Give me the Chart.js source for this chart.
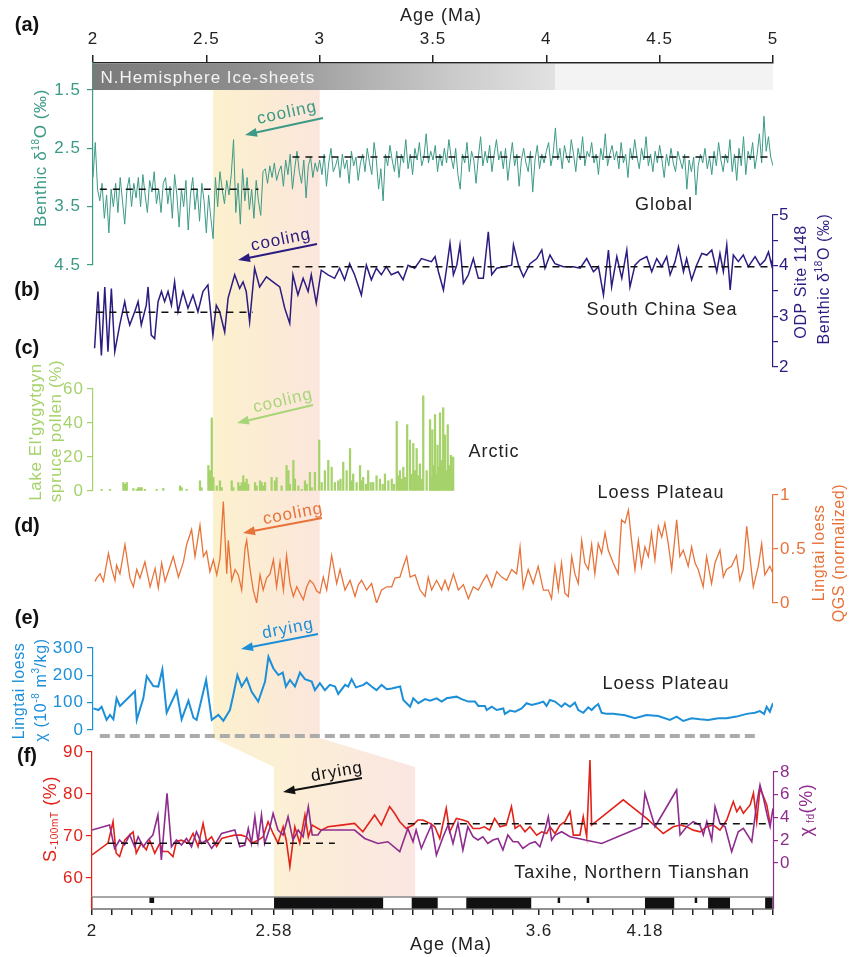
<!DOCTYPE html>
<html>
<head>
<meta charset="utf-8">
<script src="https://cdn.jsdelivr.net/npm/chart.js@4"></script>
<style>
  body { margin: 0; background: #fff; }
  #wrap { position: relative; width: 850px; height: 957px; }
  #wrap canvas { position: absolute; left: 0; top: 0; }
</style>
</head>
<body>
<div id="wrap"></div>
<script>
// ---- data ----
const ageTicks = [2, 2.5, 3, 3.5, 4, 4.5, 5];

// (a) global benthic d18O stack, sampled every 0.01 Ma from 2.00 Ma
const tealStart = 2.0, tealStep = 0.01;
const tealVals = [
  3.0, 2.4, 3.2, 3.4, 3.1, 3.7, 3.3, 3.95, 3.2, 3.5,
  3.1, 3.6, 3.0, 3.4, 3.8, 3.2, 3.0, 3.5, 3.1, 3.35,
  3.0, 3.5, 2.95, 3.3, 3.6, 3.05, 3.25, 2.9, 3.45, 3.2,
  3.6, 3.1, 3.0, 3.45, 3.15, 3.7, 2.95, 3.3, 3.85, 3.2,
  3.5, 3.05, 3.9, 3.3, 3.0, 3.55, 3.2, 3.75, 3.1, 3.4,
  3.95, 3.3, 3.7, 4.05, 3.0, 3.5, 2.9, 3.2, 3.45, 3.05,
  3.3, 2.95, 2.35, 3.6, 3.1, 3.8, 2.85, 3.4, 3.0, 3.55,
  3.2, 3.7, 3.05, 3.4, 3.65, 2.9, 2.85, 3.1, 2.8, 3.0,
  2.75, 3.05, 2.9, 2.8, 3.15, 2.7, 2.95, 2.6, 3.2, 2.85,
  2.55, 2.9, 3.1, 2.7, 3.35, 2.8, 2.65, 3.0, 2.75, 2.9,
  2.7, 2.95, 2.6, 3.15, 2.75, 2.5, 2.9, 2.8, 2.65, 3.0,
  2.6, 2.85, 2.7, 3.1, 2.55, 2.8, 2.65, 3.05, 2.75, 2.6,
  2.9, 2.5, 2.75, 2.95, 2.4, 2.7, 3.2, 2.85, 3.4, 2.6,
  2.8, 2.45, 2.7, 2.9, 2.55, 3.0, 2.6, 2.75, 2.35, 2.85,
  2.6, 2.95, 2.5, 2.7, 2.4, 2.8, 2.65, 2.25, 2.75, 2.55,
  2.7, 2.45, 2.9, 2.6, 2.8, 2.5, 2.75, 2.35, 2.65, 2.85,
  2.5, 2.95, 3.2, 2.6, 2.75, 2.4, 2.9, 2.55, 2.7, 3.1,
  2.65, 2.3, 2.8, 2.55, 2.75, 2.45, 2.9, 2.6, 2.35, 2.7,
  2.55, 2.85, 2.5, 3.05, 2.7, 2.4, 2.8, 2.6, 3.15, 2.7,
  2.5, 2.75, 2.9, 2.55, 3.25, 2.7, 2.45, 2.85, 2.6, 2.75,
  2.55, 2.4, 2.8, 2.6, 2.15, 2.7, 2.5, 2.85, 2.45, 2.65,
  2.75, 2.35, 2.6, 2.9, 2.5, 2.7, 2.3, 2.8, 2.55, 2.65,
  2.4, 2.75, 2.6, 2.95, 2.5, 2.7, 2.25, 2.8, 2.6, 2.45,
  2.7, 2.55, 2.85, 2.4, 2.75, 2.6, 3.0, 2.5, 2.7, 2.35,
  2.65, 2.85, 2.5, 2.7, 2.3, 2.8, 2.6, 2.9, 2.55, 2.75,
  2.45, 2.7, 3.0, 2.6, 2.8, 2.5, 2.75, 2.9, 2.55, 2.7,
  2.85, 2.6, 3.2, 2.7, 2.9, 2.65, 3.3, 2.8, 2.6, 2.75,
  2.5, 2.85, 2.65, 2.95, 2.55, 2.8, 2.4, 2.7, 2.9, 2.6,
  2.75, 2.35, 2.9, 2.6, 3.05, 2.5, 2.8, 2.3, 2.95, 2.55,
  2.7, 2.4, 2.85, 2.6, 2.25, 2.75, 1.95, 2.55, 2.3, 2.65,
  2.8
];
const tealTicks = [1.5, 2.5, 3.5, 4.5];
const tealMeans = [[2.03, 2.73, 3.2], [2.88, 4.99, 2.65]];

// (b) ODP 1148 benthic d18O [age, value]
const navy = [
  [2.007,2.37],[2.022,3.49],[2.037,2.23],[2.052,3.58],[2.066,2.30],[2.081,3.55],[2.096,2.30],[2.118,2.83],
  [2.140,3.29],[2.151,3.02],[2.162,2.83],[2.184,3.09],[2.199,3.29],[2.213,2.83],[2.235,3.22],[2.243,3.58],
  [2.257,2.63],[2.272,2.56],[2.287,3.29],[2.302,3.49],[2.316,3.29],[2.331,3.49],[2.346,3.22],[2.360,3.68],
  [2.375,3.09],[2.397,3.49],[2.419,3.16],[2.441,3.42],[2.463,3.09],[2.485,3.49],[2.507,3.62],[2.529,2.63],
  [2.544,3.22],[2.559,3.09],[2.581,2.69],[2.596,3.36],[2.625,3.82],[2.647,3.55],[2.662,3.68],[2.676,3.49],
  [2.691,2.89],[2.713,3.95],[2.735,3.58],[2.765,3.78],[2.794,3.68],[2.824,3.58],[2.846,3.16],[2.868,2.86],
  [2.882,3.82],[2.904,3.42],[2.927,3.75],[2.949,3.49],[2.963,3.82],[2.985,3.26],[3.007,3.91],[3.037,3.82],
  [3.066,3.75],[3.088,3.95],[3.110,3.72],[3.132,4.04],[3.154,3.82],[3.184,3.42],[3.206,4.01],[3.228,3.72],
  [3.250,3.95],[3.272,3.82],[3.294,3.98],[3.316,3.82],[3.346,3.88],[3.368,3.72],[3.390,4.01],[3.419,3.95],
  [3.449,4.14],[3.493,4.08],[3.509,4.18],[3.524,3.88],[3.546,3.52],[3.561,3.98],[3.575,4.44],[3.590,3.82],
  [3.605,4.01],[3.619,4.41],[3.634,3.65],[3.656,3.82],[3.678,4.14],[3.700,3.75],[3.722,3.75],[3.744,4.67],
  [3.759,3.82],[3.781,3.95],[3.847,4.01],[3.855,4.41],[3.877,4.01],[3.899,3.78],[3.928,4.04],[3.958,4.14],
  [3.980,4.31],[3.994,3.95],[4.016,4.21],[4.038,4.04],[4.075,3.98],[4.119,3.98],[4.149,3.95],[4.178,4.14],
  [4.208,3.88],[4.230,3.98],[4.252,3.42],[4.274,4.31],[4.288,3.58],[4.311,4.18],[4.333,3.75],[4.355,4.31],
  [4.369,3.58],[4.391,4.01],[4.413,4.11],[4.443,4.18],[4.465,3.88],[4.487,4.14],[4.509,3.98],[4.531,4.18],
  [4.546,3.82],[4.568,4.08],[4.583,4.37],[4.605,3.88],[4.619,4.14],[4.641,3.72],[4.663,4.01],[4.686,4.24],
  [4.708,4.21],[4.730,4.31],[4.752,3.88],[4.766,4.24],[4.781,3.88],[4.796,4.41],[4.811,3.52],[4.825,4.21],
  [4.847,4.08],[4.869,4.21],[4.891,3.98],[4.921,4.18],[4.943,4.01],[4.965,4.11],[4.980,4.27],[4.994,4.01],
  [5.0,4.18]
];
const navyTicks = [2, 2.5, 3, 3.5, 4, 4.5, 5];
const navyMeans = [[2.015, 2.706, 3.08], [2.88, 5.0, 3.98]];

// (c) Lake El'gygytgyn spruce pollen (%) [age, value]
const pollen = [
  [2.038,1],[2.075,1],[2.134,5],[2.141,4],[2.149,5],[2.178,1.5],[2.193,1],[2.200,2],[2.207,2],[2.215,2],
  [2.229,1],[2.281,1],[2.310,1.5],[2.384,3],[2.391,2],[2.413,1],[2.472,6],[2.479,2],[2.509,15],[2.516,12],
  [2.524,43],[2.531,8],[2.546,3],[2.560,6],[2.568,2],[2.612,6],[2.619,2],[2.641,5],[2.648,3],[2.656,5],
  [2.663,9],[2.670,5],[2.678,7],[2.685,4],[2.715,5],[2.722,3],[2.737,6],[2.744,5],[2.751,3],[2.759,5],
  [2.788,8],[2.803,6],[2.810,8],[2.832,3],[2.854,15],[2.862,12],[2.869,4],[2.884,18],[2.891,7],[2.906,3],
  [2.921,1],[2.935,6],[2.943,4],[2.957,11],[2.965,2],[2.979,11],[2.998,30],[3.009,5],[3.023,12],[3.038,18],
  [3.053,14],[3.067,5],[3.082,6],[3.092,7],[3.104,17],[3.119,12],[3.134,25],[3.141,6],[3.148,10],[3.163,5],
  [3.178,15],[3.185,6],[3.192,8],[3.204,4],[3.214,12],[3.225,5],[3.236,5],[3.251,9],[3.266,7],[3.278,4],
  [3.288,10],[3.303,6],[3.318,7],[3.328,4],[3.340,41],[3.347,9],[3.354,12],[3.362,7],[3.369,14],[3.376,8],
  [3.386,39],[3.398,30],[3.406,10],[3.413,28],[3.420,12],[3.428,25],[3.435,9],[3.442,16],[3.450,7],[3.457,56],
  [3.472,12],[3.487,42],[3.491,8],[3.497,36],[3.503,15],[3.509,45],[3.514,10],[3.520,27],[3.526,14],[3.531,46],
  [3.538,18],[3.545,49],[3.553,33],[3.558,12],[3.565,39],[3.570,15],[3.579,21],[3.585,9],[3.589,20]
];
const pollenTicks = [0, 20, 40, 60];

// (d) Lingtai loess QGS (normalized) [age, value]
const qgs = [
  [2.009,0.20],[2.016,0.23],[2.031,0.27],[2.046,0.20],[2.068,0.46],[2.082,0.32],[2.097,0.21],[2.104,0.35],
  [2.119,0.27],[2.141,0.54],[2.163,0.23],[2.178,0.15],[2.193,0.31],[2.207,0.23],[2.229,0.38],[2.252,0.15],
  [2.274,0.32],[2.288,0.14],[2.303,0.37],[2.318,0.20],[2.332,0.29],[2.354,0.43],[2.377,0.24],[2.399,0.38],
  [2.413,0.54],[2.435,0.68],[2.450,0.43],[2.472,0.72],[2.487,0.43],[2.501,0.48],[2.516,0.29],[2.531,0.40],
  [2.546,0.26],[2.560,0.41],[2.575,0.94],[2.590,0.27],[2.597,0.58],[2.612,0.21],[2.627,0.31],[2.641,0.26],
  [2.656,0.12],[2.671,0.51],[2.678,0.58],[2.693,0.31],[2.707,0.12],[2.722,0.00],[2.737,0.26],[2.751,0.12],
  [2.766,0.23],[2.781,0.27],[2.796,0.40],[2.810,0.15],[2.825,0.38],[2.840,0.12],[2.854,0.44],[2.869,0.18],
  [2.884,0.06],[2.899,0.15],[2.913,0.09],[2.928,0.03],[2.943,0.15],[2.957,0.21],[2.972,0.18],[2.987,0.11],
  [3.001,0.09],[3.016,0.24],[3.031,0.12],[3.053,0.44],[3.075,0.18],[3.090,0.31],[3.112,0.12],[3.134,0.21],
  [3.156,0.06],[3.171,0.17],[3.185,0.21],[3.207,0.12],[3.229,0.18],[3.251,0.00],[3.273,0.12],[3.296,0.15],
  [3.318,0.15],[3.332,0.23],[3.354,0.24],[3.369,0.34],[3.384,0.43],[3.399,0.24],[3.421,0.26],[3.443,0.12],
  [3.465,0.06],[3.479,0.24],[3.494,0.12],[3.516,0.21],[3.538,0.12],[3.553,0.21],[3.568,0.12],[3.590,0.27],
  [3.612,0.12],[3.634,0.17],[3.656,0.04],[3.678,0.15],[3.700,0.12],[3.722,0.21],[3.737,0.26],[3.759,0.15],
  [3.781,0.29],[3.803,0.24],[3.825,0.21],[3.847,0.31],[3.869,0.27],[3.884,0.52],[3.898,0.14],[3.920,0.31],
  [3.942,0.18],[3.964,0.34],[3.987,0.12],[4.009,0.12],[4.023,0.04],[4.038,0.34],[4.053,0.12],[4.067,0.37],
  [4.082,0.09],[4.097,0.06],[4.112,0.43],[4.126,0.27],[4.141,0.18],[4.156,0.58],[4.170,0.37],[4.185,0.31],
  [4.200,0.54],[4.214,0.27],[4.229,0.55],[4.244,0.46],[4.259,0.65],[4.273,0.49],[4.295,0.37],[4.317,0.27],
  [4.332,0.77],[4.347,0.74],[4.362,0.86],[4.376,0.58],[4.391,0.31],[4.406,0.58],[4.420,0.34],[4.435,0.52],
  [4.450,0.43],[4.464,0.65],[4.479,0.40],[4.494,0.71],[4.509,0.61],[4.523,0.74],[4.538,0.55],[4.553,0.31],
  [4.575,0.77],[4.589,0.43],[4.604,0.49],[4.626,0.34],[4.641,0.52],[4.656,0.37],[4.670,0.31],[4.692,0.15],
  [4.707,0.43],[4.729,0.18],[4.744,0.37],[4.766,0.49],[4.781,0.24],[4.795,0.31],[4.817,0.34],[4.839,0.44],
  [4.854,0.21],[4.869,0.31],[4.884,0.71],[4.898,0.43],[4.913,0.15],[4.935,0.34],[4.950,0.55],[4.964,0.26],
  [4.986,0.34],[5.0,0.27]
];
const qgsTicks = [0, 0.5, 1];

// (e) Lingtai loess magnetic susceptibility [age, value]
const chi = [
  [2.002,79],[2.024,73],[2.038,85],[2.060,37],[2.075,55],[2.090,39],[2.104,116],[2.119,88],[2.185,142],
  [2.193,37],[2.222,116],[2.237,197],[2.266,161],[2.288,159],[2.306,221],[2.325,63],[2.369,142],[2.391,39],
  [2.421,107],[2.443,45],[2.457,37],[2.499,183],[2.524,37],[2.553,55],[2.575,34],[2.604,73],[2.619,128],
  [2.637,201],[2.656,159],[2.678,189],[2.700,140],[2.729,104],[2.759,177],[2.774,268],[2.796,225],[2.818,201],
  [2.837,210],[2.851,159],[2.869,183],[2.891,159],[2.913,210],[2.935,186],[2.965,177],[2.979,146],[3.001,171],
  [3.023,146],[3.045,165],[3.068,159],[3.082,132],[3.112,165],[3.126,159],[3.141,186],[3.160,156],[3.193,165],
  [3.207,174],[3.229,159],[3.251,146],[3.273,165],[3.296,149],[3.318,152],[3.355,159],[3.369,110],[3.399,85],
  [3.413,116],[3.435,98],[3.465,113],[3.487,107],[3.516,116],[3.538,104],[3.560,116],[3.604,122],[3.626,113],
  [3.656,104],[3.685,104],[3.700,88],[3.729,88],[3.737,73],[3.759,85],[3.781,73],[3.810,79],[3.817,59],
  [3.840,71],[3.862,67],[3.891,79],[3.913,98],[3.935,92],[3.965,98],[3.987,104],[4.001,88],[4.016,110],
  [4.038,104],[4.067,85],[4.082,98],[4.104,85],[4.126,100],[4.141,73],[4.163,63],[4.185,83],[4.200,73],
  [4.214,85],[4.229,95],[4.244,63],[4.266,59],[4.295,59],[4.347,54],[4.391,43],[4.442,55],[4.494,51],
  [4.545,37],[4.575,49],[4.604,33],[4.641,43],[4.678,39],[4.714,37],[4.759,43],[4.795,43],[4.839,49],
  [4.884,59],[4.920,63],[4.942,69],[4.961,59],[4.972,85],[4.986,67],[5.0,98]
];
const chiTicks = [0, 100, 200, 300];

// (f) Taxihe section, ages from the magnetostratigraphic age axis
const fTieAge = [2, 2.58, 3.6, 4.18, 4.88];
const fTiePos = [0, 0.2673, 0.6564, 0.812, 1];
const fTickAges = [2, 2.58, 3.6, 4.18];
const fTickLabels = ['2', '2.58', '3.6', '4.18'];
const sRatio = [
  [2.000,65.5],[2.051,68.3],[2.067,73.4],[2.077,65.9],[2.088,65.1],[2.104,69.0],[2.120,70.2],[2.131,71.0],
  [2.141,65.9],[2.157,68.3],[2.173,66.7],[2.184,69.0],[2.200,65.9],[2.216,68.3],[2.226,66.3],[2.242,66.3],
  [2.258,65.1],[2.269,68.7],[2.285,69.0],[2.306,68.3],[2.322,70.6],[2.338,67.5],[2.354,73.0],[2.365,68.7],
  [2.381,69.8],[2.397,67.5],[2.413,69.4],[2.433,69.8],[2.455,70.2],[2.476,70.2],[2.492,69.8],[2.508,68.3],
  [2.529,69.0],[2.545,69.8],[2.561,73.4],[2.577,70.6],[2.595,68.3],[2.615,72.2],[2.627,69.0],[2.641,62.7],
  [2.660,72.2],[2.679,68.3],[2.699,75.0],[2.712,69.8],[2.727,72.6],[2.749,71.8],[2.762,71.4],[2.788,72.2],
  [2.839,72.6],[2.890,73.0],[2.922,71.0],[2.967,75.0],[2.993,72.6],[3.025,77.0],[3.044,75.4],[3.064,73.4],
  [3.089,71.8],[3.115,72.6],[3.134,73.8],[3.153,73.8],[3.180,73.0],[3.199,72.2],[3.218,69.4],[3.243,76.6],
  [3.256,71.0],[3.282,74.2],[3.307,73.8],[3.326,73.4],[3.346,71.8],[3.371,71.8],[3.390,72.2],[3.410,71.4],
  [3.429,74.2],[3.450,72.2],[3.474,72.6],[3.494,77.0],[3.508,71.8],[3.527,72.6],[3.546,71.0],[3.565,72.2],
  [3.591,70.2],[3.615,71.0],[3.642,70.6],[3.660,72.2],[3.688,70.6],[3.715,72.6],[3.742,73.4],[3.770,75.8],
  [3.788,70.2],[3.824,70.2],[3.842,74.6],[3.861,69.8],[3.879,88.1],[3.888,72.6],[4.061,78.6],[4.189,74.2],
  [4.280,70.6],[4.335,72.2],[4.372,72.6],[4.408,72.2],[4.444,71.4],[4.481,71.0],[4.518,72.2],[4.554,72.6],
  [4.590,71.4],[4.627,73.8],[4.663,78.2],[4.682,75.8],[4.700,77.0],[4.718,75.4],[4.755,77.4],[4.773,80.2],
  [4.791,73.4],[4.809,81.4],[4.828,79.4],[4.846,77.4],[4.864,73.0]
];
const chiFd = [
  [2.000,2.90],[2.056,3.34],[2.072,1.28],[2.088,2.02],[2.104,1.58],[2.120,2.46],[2.136,1.43],[2.147,2.31],
  [2.163,1.43],[2.179,2.02],[2.194,2.46],[2.210,4.22],[2.221,0.26],[2.239,6.12],[2.253,1.43],[2.269,2.02],
  [2.285,1.58],[2.301,2.16],[2.317,1.43],[2.333,2.75],[2.349,1.72],[2.365,2.02],[2.381,1.28],[2.397,1.87],
  [2.413,2.60],[2.433,2.75],[2.455,2.90],[2.471,1.43],[2.487,1.58],[2.498,3.04],[2.508,1.72],[2.519,4.07],
  [2.529,1.87],[2.540,4.22],[2.550,1.72],[2.566,3.04],[2.577,4.36],[2.595,2.90],[2.615,2.46],[2.634,4.07],
  [2.653,2.02],[2.673,2.90],[2.692,2.31],[2.712,4.95],[2.727,2.46],[2.749,2.46],[2.762,2.90],[2.839,2.90],
  [2.890,2.90],[2.929,2.16],[2.980,1.72],[3.018,1.87],[3.064,0.99],[3.095,3.04],[3.115,1.87],[3.127,2.90],
  [3.147,1.28],[3.166,2.31],[3.186,3.34],[3.205,0.70],[3.231,2.31],[3.250,3.34],[3.269,1.72],[3.288,3.48],
  [3.307,1.14],[3.326,3.19],[3.346,2.31],[3.365,2.02],[3.384,2.31],[3.403,1.72],[3.423,2.02],[3.442,2.16],
  [3.461,1.14],[3.480,2.46],[3.500,1.87],[3.519,1.87],[3.538,1.28],[3.565,1.72],[3.585,1.87],[3.605,1.43],
  [3.633,2.90],[3.651,4.07],[3.669,2.02],[3.688,2.46],[3.724,2.75],[3.770,2.31],[3.943,1.72],[4.162,3.19],
  [4.180,6.12],[4.235,3.19],[4.353,6.42],[4.372,2.46],[4.408,3.19],[4.444,3.63],[4.481,3.34],[4.499,2.46],
  [4.518,3.63],[4.545,2.02],[4.563,4.95],[4.590,3.48],[4.618,3.19],[4.654,0.99],[4.690,2.75],[4.718,3.04],
  [4.764,1.87],[4.791,5.24],[4.809,6.85],[4.828,5.68],[4.846,4.36],[4.864,3.19],[4.880,4.80]
];
const sTicks = [60, 70, 80, 90];
const fdTicks = [0, 2, 4, 6, 8];
const sMeans = [[2.051, 2.814, 68.3], [3.095, 4.85, 72.9]];
// normal polarity intervals (black) and short events
const normalChrons = [[2.58, 3.0], [3.11, 3.21], [3.32, 3.57], [4.18, 4.34], [4.525, 4.645], [4.837, 4.88]];
const shortEvents = [[2.183, 2.198], [3.702, 3.711], [3.861, 3.87], [4.452, 4.464]];

// shaded interval 
const bandAge = [2.53, 3.0];
const bandAgeF = [2.58, 3.123];
const iceSheetAge = 4.04;

// ---- styling ----
const FONT = '"Liberation Sans", Arial, Helvetica, sans-serif';
const TEAL = '#3c9a86', NAVY = '#2b1c80', GREEN = '#a6d26b', ORANGE = '#e8733a',
      BLUE = '#1d8fd8', RED = '#e2231a', PURPLE = '#8e2c8e';
const W = 850, H = 957;

Chart.defaults.font.family = FONT;
Chart.defaults.color = '#222';

const wrap = document.getElementById('wrap');
function layer() {
  const c = document.createElement('canvas');
  c.width = W; c.height = H;
  c.style.width = W + 'px'; c.style.height = H + 'px';
  wrap.appendChild(c);
  return c;
}

function fPos(a) {
  for (let i = 1; i < fTieAge.length; i++) {
    if (a <= fTieAge[i] || i === fTieAge.length - 1) {
      const t = (a - fTieAge[i - 1]) / (fTieAge[i] - fTieAge[i - 1]);
      return fTiePos[i - 1] + t * (fTiePos[i] - fTiePos[i - 1]);
    }
  }
}

const bgCanvas = layer();

const spacing = { id: 'spacing', beforeDraw(c) { c.ctx.letterSpacing = '1px'; } };

const fixedTicks = vals => s => { s.ticks = vals.map(v => ({ value: v })); };

function yAxis(o) {
  return {
    type: 'linear', position: o.pos, min: o.min, max: o.max, reverse: !!o.reverse, bounds: 'data',
    afterBuildTicks: fixedTicks(o.ticks),
    afterFit: s => { s.width = o.pos === 'left' ? 60 : 50; },
    ticks: { color: o.color, font: { size: 17 }, padding: o.pad ?? 3, callback: o.cb || (v => v) },
    grid: { drawOnChartArea: false, tickLength: o.tl || 6, color: o.color, lineWidth: 1.2 },
    border: { display: o.border !== false, color: o.color, width: 1.2 }
  };
}
const hiddenX = { type: 'linear', min: 2, max: 5, display: false, offset: false };

function line(pts, color, w, yID, extra) {
  return Object.assign({
    data: pts.map(p => ({ x: p[0], y: p[1] })),
    borderColor: color, borderWidth: w, yAxisID: yID, fill: false, pointRadius: 0
  }, extra || {});
}
function dashes(means, yID, conv) {
  return means.map(m => line([[conv ? conv(m[0]) : m[0], m[2]], [conv ? conv(m[1]) : m[1], m[2]]],
    '#111', 1.5, yID, { borderDash: [7, 6] }));
}

function panel(box, datasets, scales) {
  return new Chart(layer(), {
    type: 'line',
    data: { datasets },
    options: {
      responsive: false, animation: false, events: [],
      layout: { autoPadding: false, padding: {
        left: box.l - (box.aL || 0), right: W - box.r - (box.aR || 0),
        top: box.t - (box.aT || 0), bottom: H - box.b - (box.aB || 0) } },
      plugins: { legend: { display: false }, tooltip: { enabled: false } },
      elements: { point: { radius: 0 }, line: { tension: 0 } },
      scales
    },
    plugins: [spacing]
  });
}

// (a)
const tealPts = tealVals.map((v, i) => [tealStart + i * tealStep, v]);
const chartA = panel({ l: 93, r: 773, t: 63, b: 265, aL: 60, aT: 63 },
  [...dashes(tealMeans, 'y'), line(tealPts, TEAL, 1, 'y')],
  {
    x: { type: 'linear', position: 'top', min: 2, max: 5, bounds: 'data',
      afterBuildTicks: fixedTicks(ageTicks), afterFit: s => { s.height = 63; },
      ticks: { color: '#222', font: { size: 17 }, padding: 5, callback: v => v },
      grid: { drawOnChartArea: false, tickLength: 8, color: '#222', lineWidth: 1.5 },
      border: { color: '#222', width: 1.5 } },
    y: yAxis({ pos: 'left', min: 1.037, max: 4.5, reverse: true, ticks: tealTicks, color: TEAL, pad: 6 })
  });

// (b)
const chartB = panel({ l: 93, r: 773, t: 215, b: 367, aR: 50 },
  [...dashes(navyMeans, 'y'), line(navy, NAVY, 1.5, 'y')],
  { x: hiddenX,
    y: yAxis({ pos: 'right', min: 2, max: 5, ticks: navyTicks, color: NAVY, pad: 1, tl: 5,
      cb: v => Number.isInteger(v) ? v : '' }) });

// (c)
const chartC = panel({ l: 93, r: 773, t: 389, b: 491, aL: 60 },
  [{ type: 'bar', data: pollen.map(p => ({ x: p[0], y: p[1] })), backgroundColor: GREEN,
     barThickness: 1.6, borderWidth: 0, yAxisID: 'y' }],
  { x: hiddenX, y: yAxis({ pos: 'left', min: 0, max: 60, ticks: pollenTicks, color: GREEN, pad: 3 }) });

// (d)
const chartD = panel({ l: 93, r: 773, t: 495, b: 603, aR: 50 },
  [line(qgs, ORANGE, 1.3, 'y')],
  { x: hiddenX, y: yAxis({ pos: 'right', min: 0, max: 1, ticks: qgsTicks, color: ORANGE, pad: 2, tl: 5 }) });

// (e)
const chartE = panel({ l: 93, r: 773, t: 648, b: 730, aL: 60 },
  [line(chi, BLUE, 2, 'y')],
  { x: hiddenX, y: yAxis({ pos: 'left', min: 0, max: 300, ticks: chiTicks, color: BLUE, pad: 3 }) });

// (f)
const fMajor = fTickAges.map((a, i) => ({ value: fPos(a), lab: fTickLabels[i] }));
const fMinorStep = 1 / 34;
const chartF = panel({ l: 92, r: 773, t: 752, b: 909, aL: 60, aR: 50, aB: 48 },
  [...dashes(sMeans, 'yL', fPos),
   line(chiFd.map(p => [fPos(p[0]), p[1]]), PURPLE, 1.6, 'yR'),
   line(sRatio.map(p => [fPos(p[0]), p[1]]), RED, 1.6, 'yL')],
  {
    x: { type: 'linear', position: 'bottom', min: 0, max: 1, bounds: 'data',
      afterBuildTicks: s => {
        const t = fMajor.map(m => ({ value: m.value, lab: m.lab }));
        for (let k = 0; k * fMinorStep <= 1.0001; k++) {
          const v = k * fMinorStep;
          if (fMajor.every(m => Math.abs(m.value - v) > fMinorStep * 0.4)) t.push({ value: v });
        }
        t.sort((a, b) => a.value - b.value);
        s.ticks = t;
      },
      afterFit: s => { s.height = 48; },
      ticks: { color: '#222', font: { size: 17 }, padding: 6, autoSkip: false, maxRotation: 0,
        callback: (v, i, ticks) => ticks[i].lab || '' },
      grid: { drawOnChartArea: false, tickLength: 6, color: '#222', lineWidth: 1.5 },
      border: { color: '#222', width: 1.5 } },
    yL: yAxis({ pos: 'left', min: 52.62, max: 90, ticks: sTicks, color: RED, pad: 2 }),
    yR: yAxis({ pos: 'right', min: -4.044, max: 9.758, ticks: fdTicks, color: PURPLE, pad: 2, tl: 5, border: false })
  });

// ---- background band ----
(function () {
  const g = bgCanvas.getContext('2d');
  const xa = v => chartA.scales.x.getPixelForValue(v);
  const xf = a => chartF.scales.x.getPixelForValue(fPos(a));
  const L1 = xa(bandAge[0]), R1 = xa(bandAge[1]);
  const L2 = xf(bandAgeF[0]), R2 = xf(bandAgeF[1]);
  const yTop = chartA.scales.y.getPixelForValue(1.5);
  const yMid = chartE.chartArea.bottom + 8;
  const ySl = chartF.chartArea.top + 15;
  const yBot = chartF.chartArea.bottom - 12;
  let gr = g.createLinearGradient(L1, 0, R1, 0);
  gr.addColorStop(0, '#fcf1cd'); gr.addColorStop(1, '#fbe6dc');
  g.fillStyle = gr;
  g.fillRect(L1, yTop, R1 - L1, yMid - yTop);
  gr = g.createLinearGradient(L2, 0, R2, 0);
  gr.addColorStop(0, '#fcf0d4'); gr.addColorStop(1, '#fae6e2');
  g.fillStyle = gr;
  g.beginPath();
  g.moveTo(L1, yMid); g.lineTo(R1, yMid); g.lineTo(R2, ySl); g.lineTo(R2, yBot);
  g.lineTo(L2, yBot); g.lineTo(L2, ySl); g.closePath(); g.fill();
})();

// ---- overlay: annotations ----
const ov = layer().getContext('2d');

function txt(s, x, y, o) {
  o = o || {};
  ov.save();
  ov.font = (o.bold ? 'bold ' : '') + (o.size || 18) + 'px ' + FONT;
  ov.fillStyle = o.color || '#222';
  ov.textAlign = o.align || 'center';
  ov.textBaseline = 'middle';
  ov.letterSpacing = (o.ls ?? 1) + 'px';
  ov.translate(x, y);
  if (o.rot) ov.rotate(o.rot);
  ov.fillText(s, 0, 0);
  ov.restore();
}
// parts: [text, size, dy]
function rich(parts, x, y, color, rot) {
  ov.save();
  ov.translate(x, y);
  ov.rotate(rot === undefined ? -Math.PI / 2 : rot);
  ov.fillStyle = color;
  ov.textBaseline = 'alphabetic';
  ov.letterSpacing = '0.6px';
  let total = 0;
  const ws = parts.map(p => { ov.font = p[1] + 'px ' + FONT; const w = ov.measureText(p[0]).width; total += w; return w; });
  let cx = -total / 2;
  const base = parts[0][1] * 0.36;
  parts.forEach((p, i) => { ov.font = p[1] + 'px ' + FONT; ov.fillText(p[0], cx, base + (p[2] || 0)); cx += ws[i]; });
  ov.restore();
}
function arrow(x1, y1, x2, y2, color, label) {
  const a = Math.atan2(y2 - y1, x2 - x1);
  ov.save();
  ov.strokeStyle = color; ov.fillStyle = color; ov.lineWidth = 2;
  ov.beginPath(); ov.moveTo(x1, y1);
  ov.lineTo(x2 - 9 * Math.cos(a), y2 - 9 * Math.sin(a)); ov.stroke();
  ov.beginPath(); ov.moveTo(x2, y2);
  ov.lineTo(x2 - 12 * Math.cos(a) + 4.5 * Math.sin(a), y2 - 12 * Math.sin(a) - 4.5 * Math.cos(a));
  ov.lineTo(x2 - 12 * Math.cos(a) - 4.5 * Math.sin(a), y2 - 12 * Math.sin(a) + 4.5 * Math.cos(a));
  ov.closePath(); ov.fill();
  ov.restore();
  const rot = Math.atan2(y1 - y2, x1 - x2);
  txt(label[0], label[1], label[2], { size: 17, color, rot });
}

// ice-sheet bar
(function () {
  const xa = v => chartA.scales.x.getPixelForValue(v);
  const top = chartA.chartArea.top + 1, bot = chartA.scales.y.getPixelForValue(1.5);
  const L = xa(2) - 0.5, M = xa(iceSheetAge), R = xa(5);
  const gr = ov.createLinearGradient(L, 0, M, 0);
  gr.addColorStop(0, '#7a7a7a'); gr.addColorStop(0.35, '#8f8f8f');
  gr.addColorStop(0.6, '#b3b3b3'); gr.addColorStop(0.8, '#cdcdcd'); gr.addColorStop(1, '#e2e2e2');
  ov.fillStyle = gr; ov.fillRect(L, top, M - L, bot - top);
  ov.fillStyle = '#f3f3f3'; ov.fillRect(M, top, R - M, bot - top);
  txt('N.Hemisphere Ice-sheets', L + 8, (top + bot) / 2 + 1, { size: 17, color: '#f4f4f4', align: 'left' });
})();

// grey separator under (e)
(function () {
  const xe = v => chartE.scales.x.getPixelForValue(v);
  const y = chartE.chartArea.bottom + 6;
  ov.save(); ov.strokeStyle = '#ababab'; ov.lineWidth = 4; ov.setLineDash([10, 5]);
  ov.beginPath(); ov.moveTo(xe(2.03), y); ov.lineTo(xe(4.93), y); ov.stroke(); ov.restore();
})();

// polarity bar and right axis line of (f)
(function () {
  const xf = a => chartF.scales.x.getPixelForValue(fPos(a));
  const ca = chartF.chartArea;
  const top = ca.bottom - 12, bot = ca.bottom - 0.5;
  ov.fillStyle = '#fff'; ov.fillRect(ca.left, top, ca.right - ca.left, bot - top);
  ov.fillStyle = '#111';
  normalChrons.forEach(c => ov.fillRect(xf(c[0]), top, xf(c[1]) - xf(c[0]), bot - top));
  shortEvents.forEach(c => ov.fillRect(xf(c[0]), top, Math.max(2.5, xf(c[1]) - xf(c[0])), 6));
  ov.strokeStyle = '#8a8a8a'; ov.lineWidth = 1.5;
  ov.beginPath(); ov.moveTo(ca.left, bot); ov.lineTo(ca.left, top); ov.lineTo(ca.right, top); ov.lineTo(ca.right, bot); ov.stroke();
  const yR = chartF.scales.yR;
  ov.strokeStyle = PURPLE; ov.lineWidth = 1.2;
  ov.beginPath(); ov.moveTo(ca.right + 0.5, yR.getPixelForValue(8)); ov.lineTo(ca.right + 0.5, ca.bottom); ov.stroke();
  ov.strokeStyle = RED;
  ov.beginPath(); ov.moveTo(ca.left - 0.5, top); ov.lineTo(ca.left - 0.5, ca.bottom); ov.stroke();
})();

// axis titles
txt('Age (Ma)', 441, 16, { size: 18 });
txt('Age (Ma)', 451, 945, { size: 18 });
rich([['Benthic δ', 17], ['18', 10, -7], ['O (‰)', 17]], 40, 158, TEAL);
rich([['ODP Site 1148', 16]], 800, 282, NAVY);
rich([['Benthic δ', 16], ['18', 10, -7], ['O (‰)', 16]], 823, 279, NAVY);
rich([["Lake El'gygytgyn", 17]], 35, 432, GREEN);
rich([['spruce pollen (%)', 17]], 55, 431, GREEN);
rich([['Lingtai loess', 16]], 818, 553, ORANGE);
rich([['QGS (normalized)', 16]], 838, 553, ORANGE);
rich([['Lingtai loess', 16]], 18, 691, BLUE);
rich([['χ (10', 16], ['-8', 10, -7], [' m', 16], ['3', 10, -7], ['/kg)', 16]], 40, 690, BLUE);
rich([['S', 18], ['-100mT', 10, 2], [' (%)', 18]], 50, 819, RED);
rich([['χ', 18], [' fd', 10, 2], ['(%)', 18]], 806, 810, PURPLE);

// panel letters
[['(a)', 25], ['(b)', 290], ['(c)', 348], ['(d)', 526], ['(e)', 618], ['(f)', 756]]
  .forEach(p => txt(p[0], 27, p[1], { size: 20, bold: true, color: '#111', ls: 0 }));

// region labels
txt('Global', 664, 205);
txt('South China Sea', 662, 310);
txt('Arctic', 494, 452);
txt('Loess Plateau', 661, 493);
txt('Loess Plateau', 666, 684);
txt('Taxihe, Northern Tianshan', 632, 873);

// trend arrows
arrow(323, 118, 245, 135, TEAL, ['cooling', 287, 113]);
arrow(317, 244, 238, 260, NAVY, ['cooling', 281, 240]);
arrow(313, 405, 237, 423, '#a9d57a', ['cooling', 283, 401]);
arrow(322, 518, 243, 533, ORANGE, ['cooling', 293, 514]);
arrow(318, 634, 241, 649, BLUE, ['drying', 288, 629]);
arrow(362, 778, 283, 792, '#111', ['drying', 337, 772]);
</script>
</body>
</html>
